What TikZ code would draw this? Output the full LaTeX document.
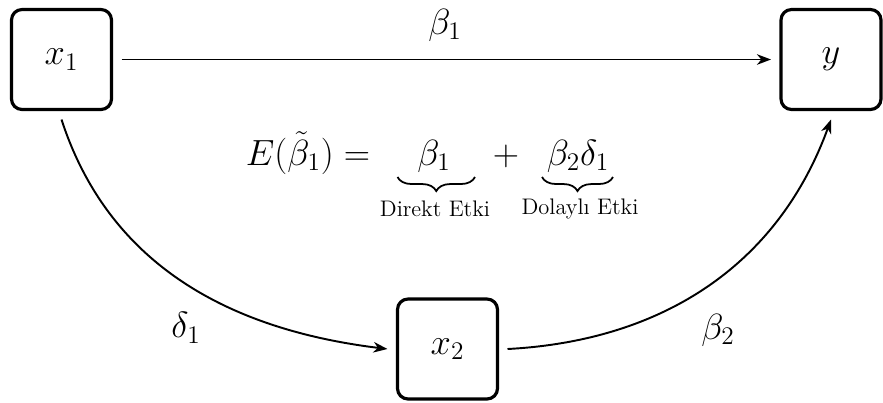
\documentclass[tikz,border=0pt]{standalone}
\usepackage{amsmath, amssymb}
\usepackage{tikz}
\usetikzlibrary{arrows.meta, positioning, calc, decorations.pathreplacing}

\begin{document}
\begin{tikzpicture}[
  var/.style={rectangle, rounded corners=6pt, minimum width=2.0cm, minimum height=2.0cm, draw=black, line width=1.8pt, outer sep=0.2cm, font=\huge},
  coef/.style={font=\huge, inner sep=1pt},
  eq/.style={font=\huge, anchor=base, inner sep=1pt},
  note/.style={font=\fontsize{12.8}{15}\selectfont, inner sep=1pt},
  arr/.style={-{Stealth[length=8pt, width=6pt, inset=2.5pt]}, line width=1.1pt},
  brc/.style={decorate, decoration={brace, mirror, amplitude=8pt}, line width=1pt}
]
\useasboundingbox (0,0) rectangle (17.66,-8.04);

% variables
\node[var] (x1) at (1.23,-1.19) {$x_1$};
\node[var] (y) at (16.62,-1.19) {$y$};
\node[var] (x2) at (8.95,-6.98) {$x_2$};

% paths
\draw[arr] (x1) -- (y);
\draw[arr] (x1.south) to[out=-72, in=173] (x2.west);
\draw[arr] (x2.east) to[out=3, in=-110] (y.south);

\node[coef] (lb1) at (8.9,-0.5) {$\beta_1$};
\node[coef] (ld1) at (3.72,-6.56) {$\delta_1$};
\node[coef] (lb2) at (14.36,-6.6) {$\beta_2$};

% decomposition
\node[eq] (lhs) at (6.16,-3.3) {$E(\tilde{\beta}_1) =$};
\node[eq] (b1) at (8.68,-3.3) {$\beta_1$};
\node[eq] (plus) at (10.12,-3.3) {$+$};
\node[eq] (b2d1) at (11.56,-3.3) {$\beta_2\delta_1$};

\draw[brc] (7.95,-3.54) -- (9.5,-3.54);
\draw[brc] (10.84,-3.54) -- (12.26,-3.54);

\node[note] (direct) at (8.7,-4.17) {Direkt Etki};
\node[note] (indirect) at (11.6,-4.17) {Dolaylı Etki};
\end{tikzpicture}
\end{document}
